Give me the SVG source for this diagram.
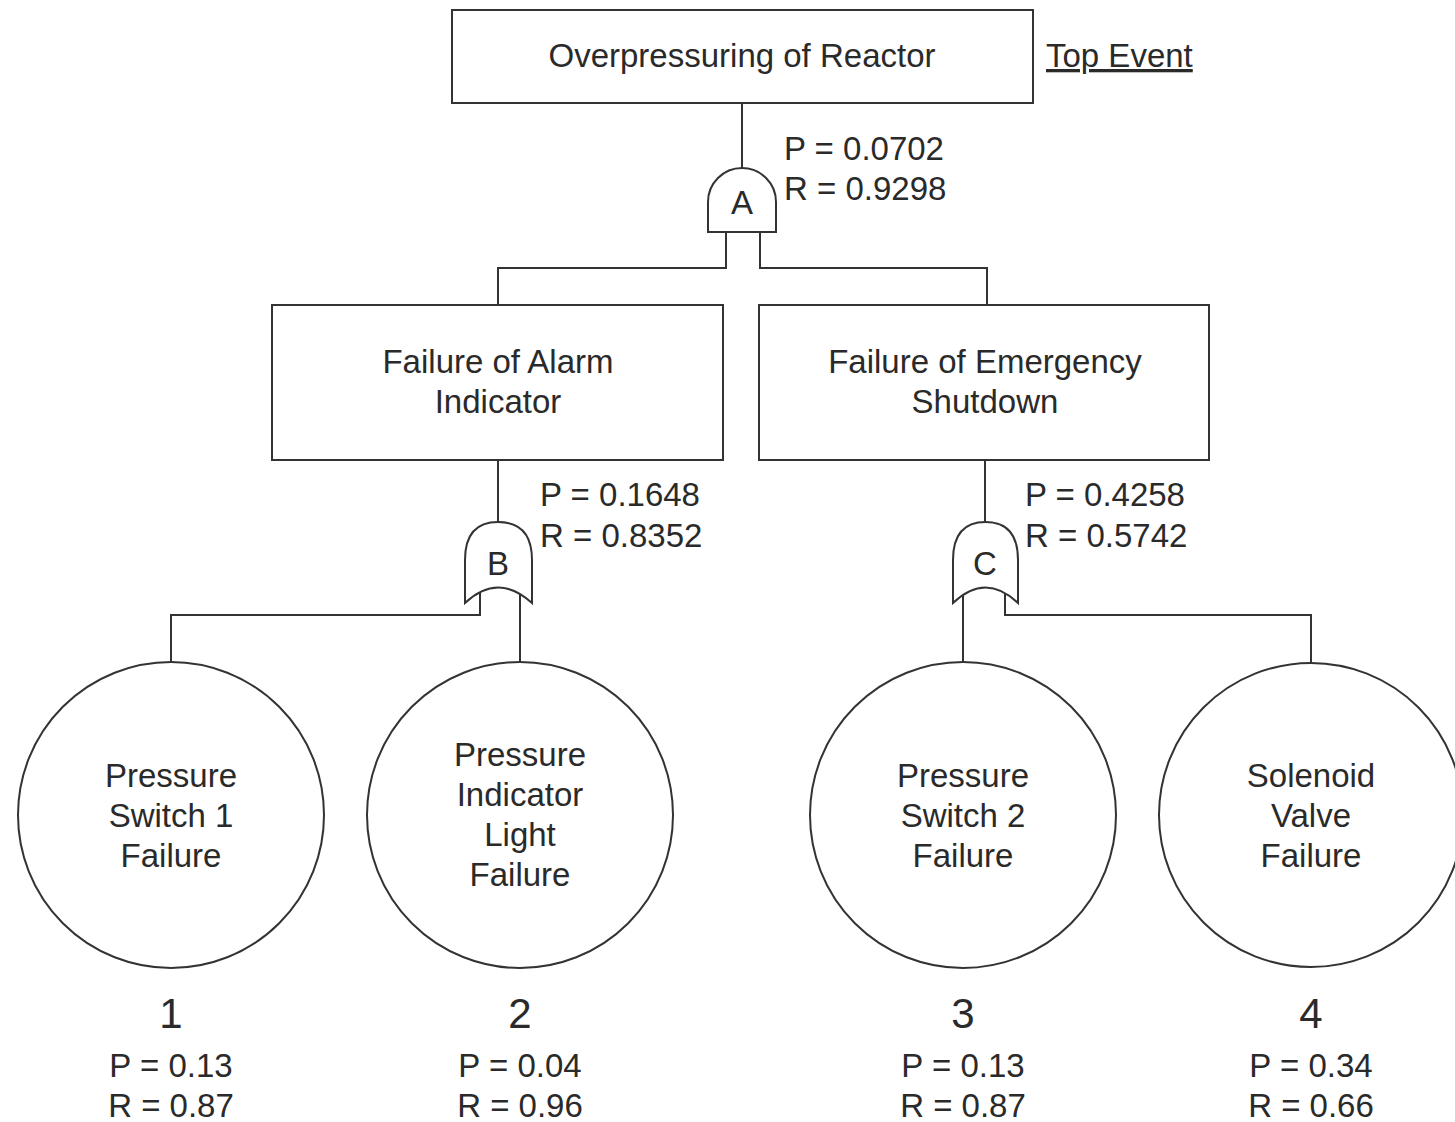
<svg xmlns="http://www.w3.org/2000/svg" width="1455" height="1122" viewBox="0 0 1455 1122">
<style>
.box{fill:#fff;stroke:#333;stroke-width:2}
.gate{fill:#fff;stroke:#333;stroke-width:2}
.ev{fill:#fff;stroke:#333;stroke-width:2}
.ln{fill:none;stroke:#333;stroke-width:2}
text{font-family:"Liberation Sans",Arial,sans-serif;fill:#2a2a2a;font-size:33px}
.c{text-anchor:middle}
.num{font-size:42px}
</style>
<rect width="1455" height="1122" fill="#fff"/>
<g id="connectors">
<path class="ln" d="M742,103 V170"/>
<path class="ln" d="M726,232 V268 H498 V305"/>
<path class="ln" d="M760,232 V268 H987 V305"/>
<path class="ln" d="M498,460 V522"/>
<path class="ln" d="M985,460 V522"/>
<path class="ln" d="M480,592 V615 H171 V662"/>
<path class="ln" d="M520,592 V662"/>
<path class="ln" d="M963,593 V662"/>
<path class="ln" d="M1005,593 V615 H1311 V662"/>
</g>
<g id="top">
<rect class="box" x="452" y="10" width="581" height="93"/>
<text class="c" x="742" y="67">Overpressuring of Reactor</text>
<text x="1046" y="67" text-decoration="underline">Top Event</text>
</g>
<g id="gateA">
<path class="gate" d="M708,232 V202 A34,34 0 0 1 776,202 V232 Z"/>
<text class="c" x="742" y="214">A</text>
<text x="784" y="160">P = 0.0702</text>
<text x="784" y="200">R = 0.9298</text>
</g>
<g id="alarm">
<rect class="box" x="272" y="305" width="451" height="155"/>
<text class="c" x="498" y="373">Failure of Alarm</text>
<text class="c" x="498" y="413">Indicator</text>
</g>
<g id="shutdown">
<rect class="box" x="759" y="305" width="450" height="155"/>
<text class="c" x="985" y="373">Failure of Emergency</text>
<text class="c" x="985" y="413">Shutdown</text>
</g>
<g id="gateB">
<path class="gate" d="M465,603 V560 Q465,522 498,522 Q532,522 532,560 V603 Q498,572 465,603 Z"/>
<text class="c" x="498" y="575">B</text>
<text x="540" y="506">P = 0.1648</text>
<text x="540" y="547">R = 0.8352</text>
</g>
<g id="gateC">
<path class="gate" d="M953,603 V560 Q953,522 985.5,522 Q1018,522 1018,560 V603 Q985.5,572 953,603 Z"/>
<text class="c" x="985" y="575">C</text>
<text x="1025" y="506">P = 0.4258</text>
<text x="1025" y="547">R = 0.5742</text>
</g>
<g id="event1">
<circle class="ev" cx="171" cy="815" r="153"/>
<text class="c" x="171" y="787">Pressure</text>
<text class="c" x="171" y="827">Switch 1</text>
<text class="c" x="171" y="867">Failure</text>
<text class="c num" x="171" y="1028">1</text>
<text class="c" x="171" y="1077">P = 0.13</text>
<text class="c" x="171" y="1117">R = 0.87</text>
</g>
<g id="event2">
<circle class="ev" cx="520" cy="815" r="153"/>
<text class="c" x="520" y="766">Pressure</text>
<text class="c" x="520" y="806">Indicator</text>
<text class="c" x="520" y="846">Light</text>
<text class="c" x="520" y="886">Failure</text>
<text class="c num" x="520" y="1028">2</text>
<text class="c" x="520" y="1077">P = 0.04</text>
<text class="c" x="520" y="1117">R = 0.96</text>
</g>
<g id="event3">
<circle class="ev" cx="963" cy="815" r="153"/>
<text class="c" x="963" y="787">Pressure</text>
<text class="c" x="963" y="827">Switch 2</text>
<text class="c" x="963" y="867">Failure</text>
<text class="c num" x="963" y="1028">3</text>
<text class="c" x="963" y="1077">P = 0.13</text>
<text class="c" x="963" y="1117">R = 0.87</text>
</g>
<g id="event4">
<circle class="ev" cx="1311" cy="815" r="152"/>
<text class="c" x="1311" y="787">Solenoid</text>
<text class="c" x="1311" y="827">Valve</text>
<text class="c" x="1311" y="867">Failure</text>
<text class="c num" x="1311" y="1028">4</text>
<text class="c" x="1311" y="1077">P = 0.34</text>
<text class="c" x="1311" y="1117">R = 0.66</text>
</g>
</svg>
